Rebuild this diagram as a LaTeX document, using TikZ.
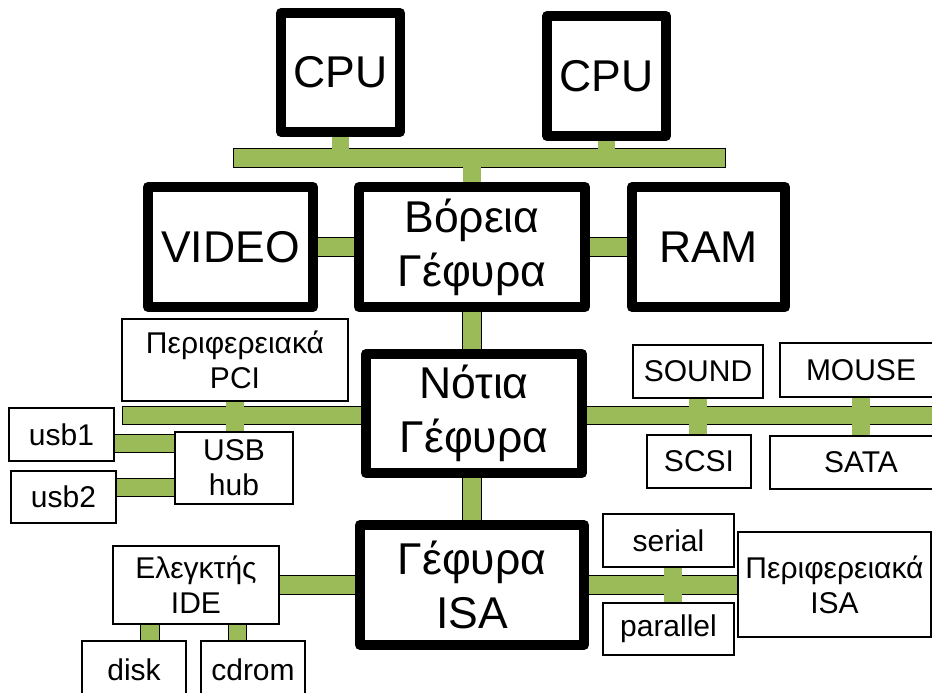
\documentclass[tikz,border=0pt]{standalone}
\usepackage{fontspec}
\setmainfont{Liberation Sans}
\usetikzlibrary{calc}

\definecolor{busgreen}{HTML}{9BBB59}
\newcommand{\bigtxt}{\fontsize{44.5}{54}\selectfont}
\newcommand{\smalltxt}{\fontsize{30}{35}\selectfont}

\pgfdeclarelayer{back}
\pgfsetlayers{back,main}

\tikzset{every picture/.style={line width=1pt},
	chip/.style={draw, line width=10pt, line join=round, fill=white, align=center, inner sep=0pt, font=\bigtxt},
	card/.style={draw, line width=1.2pt, fill=white, align=center, inner sep=0pt, font=\smalltxt},
	bus/.style={draw=busgreen, line width=17.5pt, line cap=rect, preaction={draw=black, line width=19.5pt, line cap=rect}},
	stub/.style={draw=busgreen, line width=17.5pt}}

\begin{document}
\begin{tikzpicture}[x=1pt,y=1pt,yscale=-1]
			\useasboundingbox (0,0) rectangle (932,693);
			% chips
			\node [chip, minimum width=119pt, minimum height=119pt] (cpuA) at (340.5,72.5) {CPU};
			\node [chip, minimum width=119pt, minimum height=120pt] (cpuB) at (606.5,76) {CPU};
			\node [chip, minimum width=165pt, minimum height=120pt] (video) at (230.5,247) {VIDEO};
			\node [chip, minimum width=226pt, minimum height=120pt] (nb) at (472,247) {Βόρεια\\Γέφυρα};
			\node [chip, minimum width=153pt, minimum height=120pt] (ram) at (708.5,247) {RAM};
			\node [chip, minimum width=216pt, minimum height=119pt] (sb) at (474,413.5) {Νότια\\Γέφυρα};
			\node [chip, minimum width=224pt, minimum height=120pt] (isa) at (472,585) {Γέφυρα\\ISA};
			% devices
			\node [card, minimum width=226pt, minimum height=82pt] (pciper) at (235,360) {Περιφερειακά\\PCI};
			\node [card, minimum width=105pt, minimum height=53pt] (usb1) at (61.5,434.5) {usb1};
			\node [card, minimum width=105pt, minimum height=52pt] (usb2) at (63.5,497) {usb2};
			\node [card, minimum width=118pt, minimum height=72pt] (hub) at (234,468) {USB\\hub};
			\node [card, minimum width=130pt, minimum height=53pt] (sound) at (698,371.5) {SOUND};
			\node [card, minimum width=162pt, minimum height=54pt] (mouse) at (861,370) {MOUSE};
			\node [card, minimum width=104pt, minimum height=53pt] (scsi) at (699,461.5) {SCSI};
			\node [card, minimum width=182pt, minimum height=53pt] (sata) at (861,462.5) {SATA};
			\node [card, minimum width=131pt, minimum height=53pt] (serial) at (668.5,540.5) {serial};
			\node [card, minimum width=131pt, minimum height=52pt] (parallel) at (668.5,629) {parallel};
			\node [card, minimum width=193pt, minimum height=105pt] (isaper) at (834.5,584.5) {Περιφερειακά\\ISA};
			\node [card, minimum width=166pt, minimum height=78pt] (ide) at (196,585) {Ελεγκτής\\IDE};
			\node [card, minimum width=104pt, minimum height=58pt] (disk) at (134,670) {disk};
			\node [card, minimum width=104pt, minimum height=58pt] (cdrom) at (253,670) {cdrom};
			% free bus ends and offsets
			\coordinate (tbL) at (243,158);
			\coordinate (tbR) at (716,158);
			\coordinate (pciL) at (132,415.5);
			\coordinate (rbR) at (960,415.5);
			\coordinate (u1) at ($(usb1)+(0,9)$);
			\coordinate (u2) at ($(usb2)+(0,-9.5)$);
			\coordinate (sp) at ($(serial)+(4.5,0)$);
			\coordinate (dk) at ($(disk)+(16,0)$);
			\coordinate (cd) at ($(cdrom)+(-15.5,0)$);
			\begin{pgfonlayer}{back}
				% buses
				\draw [bus] (tbL) -- (tbR);
				\draw [bus] (video) -- (nb);
				\draw [bus] (nb) -- (ram);
				\draw [bus] (nb) -- (nb |- sb);
				\draw [bus] (pciL) -- (pciL -| sb);
				\draw [bus] (rbR -| sb) -- (rbR);
				\draw [bus] (u1) -- (u1 -| hub);
				\draw [bus] (u2) -- (u2 -| hub);
				\draw [bus] (isa) -- (isa |- sb);
				\draw [bus] (ide) -- (isa);
				\draw [bus] (isa) -- (isa -| isaper);
				\draw [bus] (dk) -- (dk |- ide);
				\draw [bus] (cd) -- (cd |- ide);
				% stubs over the buses
				\draw [stub] (cpuA) -- (cpuA |- tbL);
				\draw [stub] (cpuB) -- (cpuB |- tbL);
				\draw [stub] (nb) -- (nb |- tbL);
				\draw [stub] (pciper) -- (pciper |- hub);
				\draw [stub] (sound) -- (sound |- scsi);
				\draw [stub] (mouse) -- (sata);
				\draw [stub] (sp) -- (sp |- parallel);
			\end{pgfonlayer}
		\end{tikzpicture}
\end{document}
